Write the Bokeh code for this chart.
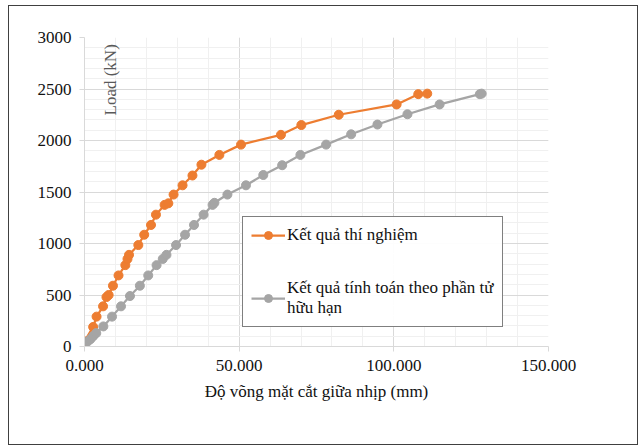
import math
from bokeh.plotting import figure
from bokeh.models import (SingleIntervalTicker, NumeralTickFormatter, Legend, LegendItem,
                          Label, Range1d, ColumnDataSource)
from bokeh.embed import file_html
from bokeh.resources import INLINE

# Experimental results (Kết quả thí nghiệm)
exp_deflection = [0.0, 2.8, 3.9, 6.0, 7.1, 7.8, 9.2, 11.0, 13.2, 13.9, 14.4, 17.4, 19.3,
                  21.5, 23.1, 25.9, 27.1, 28.8, 31.7, 34.9, 37.8, 43.6, 50.6, 63.5, 70.1,
                  82.2, 100.9, 107.9, 110.8]
exp_load = [50, 190, 290, 390, 480, 500, 590, 690, 790, 850, 890, 985, 1085,
            1180, 1280, 1375, 1390, 1475, 1565, 1660, 1765, 1860, 1960, 2055, 2150,
            2250, 2350, 2450, 2455]

# FE results (Kết quả tính toán theo phần tử hữu hạn)
fem_deflection = [0.9, 1.9, 2.8, 3.8, 6.1, 8.9, 11.8, 14.7, 17.9, 20.6, 23.3, 25.3, 26.5,
                  29.6, 32.5, 35.4, 38.5, 41.4, 42.0, 46.2, 52.2, 57.8, 63.9, 69.8, 78.1,
                  86.2, 94.7, 104.4, 114.8, 127.8, 128.4]
fem_load = [45, 70, 100, 130, 195, 290, 390, 490, 590, 690, 790, 850, 890,
            985, 1085, 1180, 1280, 1375, 1395, 1475, 1565, 1665, 1760, 1860, 1960,
            2060, 2155, 2255, 2350, 2450, 2455]

series_labels = ["Kết quả thí nghiệm", "Kết quả tính toán theo phần tử\nhữu hạn"]
x_title = "Độ võng mặt cắt giữa nhịp (mm)"
y_title = "Load (kN)"

FONT = "Liberation Serif"
ORANGE = "#ED7D31"
GRAY = "#A5A5A5"

p = figure(width=630, height=440, output_backend="svg", toolbar_location=None,
           x_range=Range1d(0, 150), y_range=Range1d(0, 3000),
           min_border_left=75, min_border_right=91, min_border_top=31, min_border_bottom=100)
p.styles = {"border": "1.5px solid #404040", "margin-left": "8px", "margin-top": "5px"}
p.outline_line_color = None

p.xaxis.ticker = SingleIntervalTicker(interval=50, num_minor_ticks=5)
p.yaxis.ticker = SingleIntervalTicker(interval=500, num_minor_ticks=5)
p.xaxis.formatter = NumeralTickFormatter(format="0.000")

for ax in (p.xaxis, p.yaxis):
    ax.axis_line_color = "#D9D9D9"
    ax.major_tick_line_color = "#D9D9D9"
    ax.major_tick_out = 5
    ax.major_tick_in = 0
    ax.minor_tick_line_color = None
    ax.major_label_text_font = FONT
    ax.major_label_text_font_size = "17px"
    ax.major_label_text_color = "#111111"
    ax.axis_label_text_font = FONT
    ax.axis_label_text_font_size = "17px"
    ax.axis_label_text_font_style = "normal"
    ax.axis_label_text_color = "#111111"
p.xaxis.major_label_standoff = 8
p.yaxis.major_label_standoff = 8
p.xaxis.axis_label = x_title
p.xaxis.axis_label_standoff = 8

for g in (p.xgrid, p.ygrid):
    g.grid_line_color = "#D9D9D9"
    g.minor_grid_line_color = "#F0F0F0"

src_exp = ColumnDataSource(dict(x=exp_deflection, y=exp_load))
src_fem = ColumnDataSource(dict(x=fem_deflection, y=fem_load))

l1 = p.line("x", "y", source=src_exp, line_color=ORANGE, line_width=2.25)
s1 = p.scatter("x", "y", source=src_exp, size=9, fill_color=ORANGE, line_color=ORANGE)
l2 = p.line("x", "y", source=src_fem, line_color=GRAY, line_width=2.25)
s2 = p.scatter("x", "y", source=src_fem, size=9, fill_color=GRAY, line_color=GRAY)

p.add_layout(Label(x=8.4, y=2935, text=y_title, angle=math.pi / 2, text_align="right",
                   text_baseline="middle", text_font=FONT, text_font_size="17px",
                   text_color="#595959"))

legend = Legend(items=[LegendItem(label=series_labels[0], renderers=[l1, s1]),
                       LegendItem(label=series_labels[1], renderers=[l2, s2])],
                location=(158, 19), label_text_font=FONT, label_text_font_size="17px",
                label_text_color="#111111", label_text_line_height=1.25,
                border_line_color="black", border_line_width=1.5,
                padding=8, spacing=33, glyph_width=34, label_standoff=2, margin=0)
p.add_layout(legend)

open("out.html", "w").write(file_html(p, INLINE))
